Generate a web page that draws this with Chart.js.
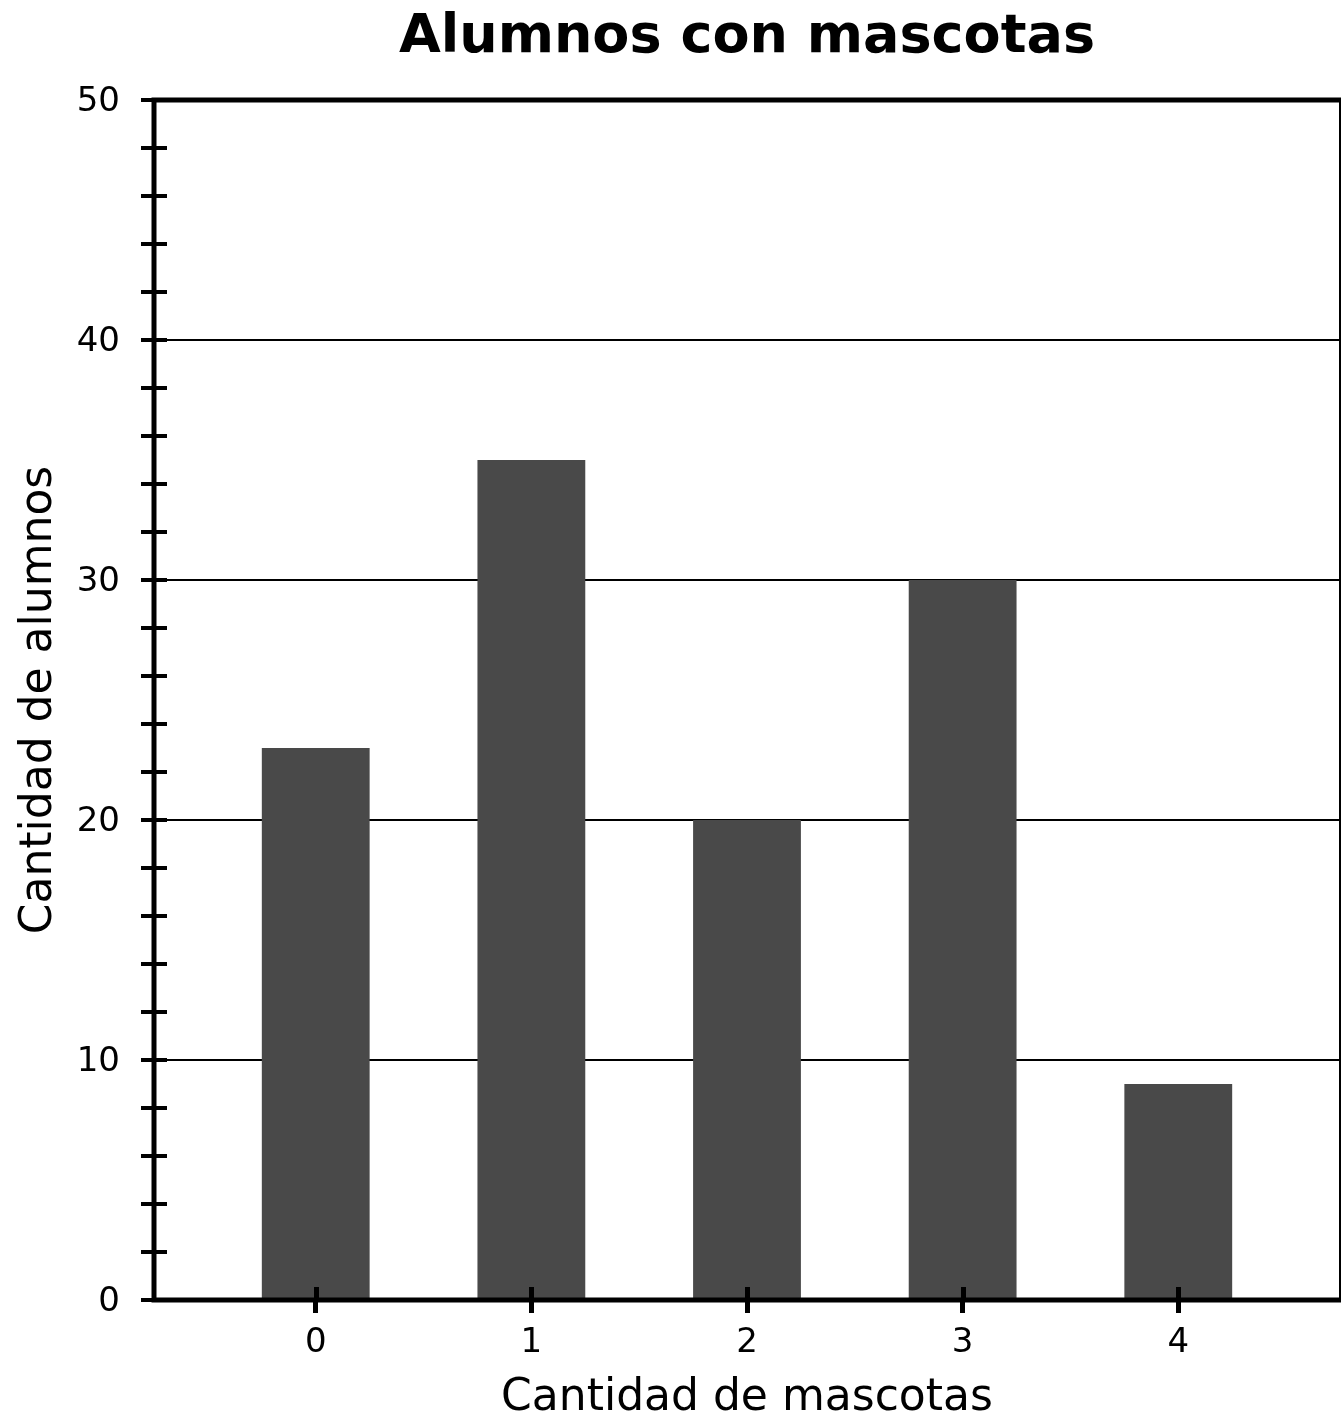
<!DOCTYPE html>
<html lang="es">
<head>
<meta charset="utf-8">
<title>Alumnos con mascotas</title>
<script src="https://cdn.jsdelivr.net/npm/chart.js@4.4.1/dist/chart.umd.min.js"></script>
<style>
  html, body { margin: 0; padding: 0; background: #fff; }
  #wrap { width: 1342px; height: 1421px; position: relative; }
</style>
</head>
<body>
<div id="wrap"><canvas id="chart"></canvas></div>
<script>
// data
const petCounts = [0, 1, 2, 3, 4];
const students = [23, 35, 20, 30, 9];
const yMin = 0;
const yMax = 50;
const yMinorStep = 2;
const yLabelStep = 10;

const FONT = "'DejaVu Sans', Verdana, sans-serif";

// frame + the inner half of the tick marks (they cross the axis)
const framePlugin = {
  id: "frame",
  afterDatasetsDraw(chart) {
    const { ctx, chartArea: area, scales } = chart;
    const x = scales.x;
    const y = scales.y;
    const stub = 13;

    ctx.save();
    ctx.strokeStyle = "#000";
    ctx.lineCap = "butt";

    ctx.lineWidth = 4;
    for (const tick of y.ticks) {
      const py = Math.round(y.getPixelForValue(tick.value));
      ctx.beginPath();
      ctx.moveTo(area.left, py);
      ctx.lineTo(area.left + stub, py);
      ctx.stroke();
    }

    ctx.lineWidth = 5;
    for (const tick of x.ticks) {
      const px = Math.round(x.getPixelForValue(tick.value)) + 0.5;
      ctx.beginPath();
      ctx.moveTo(px, area.bottom);
      ctx.lineTo(px, area.bottom - stub);
      ctx.stroke();
    }

    // right side is thin
    ctx.lineWidth = 2;
    ctx.beginPath();
    ctx.moveTo(area.right, area.top);
    ctx.lineTo(area.right, area.bottom);
    ctx.stroke();

    ctx.lineWidth = 5;
    ctx.beginPath();
    ctx.moveTo(area.left - 2.5, area.top);
    ctx.lineTo(area.right + 1, area.top);
    ctx.moveTo(area.left, area.top);
    ctx.lineTo(area.left, area.bottom);
    ctx.moveTo(area.left - 2.5, area.bottom);
    ctx.lineTo(area.right + 1, area.bottom);
    ctx.stroke();
    ctx.restore();
  },
};

new Chart(document.getElementById("chart"), {
  type: "bar",
  data: {
    datasets: [
      {
        label: "Cantidad de alumnos",
        data: petCounts.map((n, i) => ({ x: n, y: students[i] })),
        backgroundColor: "#494949",
        borderWidth: 0,
        categoryPercentage: 1,
        barPercentage: 0.5,
      },
    ],
  },
  options: {
    responsive: true,
    maintainAspectRatio: false,
    devicePixelRatio: 1,
    animation: false,
    layout: { padding: { left: 0, right: 2, top: 0, bottom: 0 } },
    plugins: {
      legend: { display: false },
      tooltip: { enabled: false },
      title: {
        display: true,
        text: "Alumnos con mascotas",
        color: "#000",
        fullSize: false,
        font: { family: FONT, size: 54, weight: "bold", lineHeight: 1.2 },
        padding: { top: 5.5, bottom: 29.7 },
      },
    },
    scales: {
      x: {
        type: "linear",
        min: -0.75,
        max: 4.75,
        offset: false,
        afterBuildTicks: (scale) => {
          scale.ticks = petCounts.map((v) => ({ value: v }));
        },
        afterFit: (scale) => {
          scale.height = 121;
        },
        border: { display: false },
        grid: {
          offset: false,
          drawOnChartArea: false,
          drawTicks: true,
          tickLength: 13,
          tickWidth: 5,
          tickColor: "#000",
        },
        ticks: {
          color: "#000",
          font: { family: FONT, size: 34 },
          padding: 10,
          callback: (value) => String(value),
        },
        title: {
          display: true,
          text: "Cantidad de mascotas",
          color: "#000",
          font: { family: FONT, size: 44, lineHeight: 1 },
          padding: { top: 0, bottom: 0 },
        },
      },
      y: {
        min: yMin,
        max: yMax,
        afterFit: (scale) => {
          scale.width = 154;
        },
        border: { display: false },
        grid: {
          color: (c) =>
            c.tick && c.tick.value % yLabelStep === 0 && c.tick.value > yMin && c.tick.value < yMax
              ? "#000"
              : "rgba(0,0,0,0)",
          lineWidth: 2,
          drawTicks: true,
          tickLength: 13,
          tickWidth: 4,
          tickColor: "#000",
        },
        ticks: {
          stepSize: yMinorStep,
          autoSkip: false,
          color: "#000",
          font: { family: FONT, size: 34 },
          padding: 21,
          labelOffset: 2,
          callback: (value) => (value % yLabelStep === 0 ? String(value) : ""),
        },
        title: {
          display: true,
          text: "Cantidad de alumnos",
          color: "#000",
          font: { family: FONT, size: 44, lineHeight: 1 },
          padding: { top: 18, bottom: 0 },
        },
      },
    },
  },
  plugins: [framePlugin],
});
</script>
</body>
</html>
